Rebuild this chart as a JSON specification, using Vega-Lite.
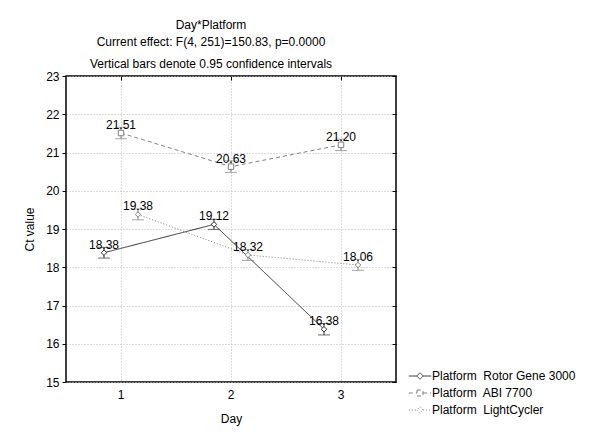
{
  "$schema": "https://vega.github.io/schema/vega-lite/v6.json",
  "width": 330,
  "height": 306,
  "autosize": {"type": "none"},
  "padding": {"left": 66, "top": 76, "right": 204, "bottom": 66},
  "background": "white",
  "title": {
    "text": "Day*Platform",
    "subtitle": ["Current effect: F(4, 251)=150.83, p=0.0000", "Vertical bars denote 0.95 confidence intervals"],
    "anchor": "middle",
    "dx": -20,
    "offset": -1,
    "font": "Liberation Sans",
    "fontSize": 12,
    "fontWeight": "normal",
    "color": "black",
    "subtitleFont": "Liberation Sans",
    "subtitleFontSize": 12,
    "subtitleColor": "black",
    "subtitleLineHeight": 22,
    "subtitlePadding": 5
  },
  "config": {
    "view": {"stroke": "black", "strokeWidth": 1.5},
    "font": "Liberation Sans",
    "axis": {
      "labelFont": "Liberation Sans",
      "titleFont": "Liberation Sans",
      "labelFontSize": 12,
      "titleFontSize": 12,
      "titleFontWeight": "normal",
      "labelColor": "black",
      "titleColor": "black",
      "gridColor": "#b8b8b8",
      "gridDash": [1, 2],
      "domain": false,
      "tickColor": "black"
    }
  },
  "data": {
    "values": [
      {"Platform": "Rotor Gene 3000", "Day": 1, "ct": 18.38, "lo": 18.24, "hi": 18.52},
      {"Platform": "Rotor Gene 3000", "Day": 2, "ct": 19.12, "lo": 18.99, "hi": 19.25},
      {"Platform": "Rotor Gene 3000", "Day": 3, "ct": 16.38, "lo": 16.23, "hi": 16.53},
      {"Platform": "ABI 7700", "Day": 1, "ct": 21.51, "lo": 21.36, "hi": 21.66},
      {"Platform": "ABI 7700", "Day": 2, "ct": 20.63, "lo": 20.48, "hi": 20.78},
      {"Platform": "ABI 7700", "Day": 3, "ct": 21.20, "lo": 21.05, "hi": 21.35},
      {"Platform": "LightCycler", "Day": 1, "ct": 19.38, "lo": 19.24, "hi": 19.52},
      {"Platform": "LightCycler", "Day": 2, "ct": 18.32, "lo": 18.18, "hi": 18.46},
      {"Platform": "LightCycler", "Day": 3, "ct": 18.06, "lo": 17.92, "hi": 18.20}
    ]
  },
  "resolve": {"axis": {"x": "independent", "y": "independent"}},
  "encoding": {
    "xOffset": {
      "field": "Platform", "type": "nominal",
      "scale": {"type": "point", "domain": ["Rotor Gene 3000", "ABI 7700", "LightCycler"], "range": [38, 72], "padding": 0}
    },
    "color": {
      "field": "Platform", "type": "nominal",
      "scale": {"domain": ["Rotor Gene 3000", "ABI 7700", "LightCycler"], "range": ["#303030", "#808080", "#808080"]},
      "legend": {
        "title": null,
        "orient": "none",
        "legendX": 348,
        "legendY": 294,
        "symbolType": "stroke",
        "symbolSize": 64,
        "symbolStrokeWidth": 1,
        "symbolFillColor": "white",
        "rowPadding": 5,
        "labelFont": "Liberation Sans",
        "labelFontSize": 12,
        "labelColor": "black",
        "labelOffset": 6,
        "labelExpr": "'Platform\u00a0 ' + datum.label",
        "encode": {
          "symbols": {
            "update": {
              "shape": {"signal": "datum.value == 'ABI 7700' ? 'M-2.8,0H-0.75M0.75,0H2.8M-0.75,-0.75H0.75V0.75H-0.75Z' : 'M-2.8,0H-0.8M0.8,0H2.8M0,-0.8L0.8,0L0,0.8L-0.8,0Z'"},
              "fill": {"value": "white"},
              "fillOpacity": {"value": 0}
            }
          }
        }
      }
    }
  },
  "layer": [
    {
      "mark": {"type": "line", "strokeWidth": 1},
      "encoding": {
        "x": {
          "field": "Day", "type": "ordinal",
          "scale": {"type": "band", "paddingInner": 0, "paddingOuter": 0},
          "axis": {"labelAngle": 0, "grid": true, "bandPosition": 0.5, "ticks": false, "labelPadding": 7, "titlePadding": 13, "title": "Day"}
        },
        "y": {
          "field": "ct", "type": "quantitative",
          "scale": {"domain": [15, 23], "nice": false, "zero": false},
          "axis": {"values": [15, 16, 17, 18, 19, 20, 21, 22, 23], "grid": true, "tickSize": 4, "labelPadding": 3, "titlePadding": 9, "title": "Ct value"}
        },
        "strokeDash": {
          "field": "Platform", "type": "nominal",
          "scale": {"domain": ["Rotor Gene 3000", "ABI 7700", "LightCycler"], "range": [[1, 0], [4, 3], [1, 2]]}
        }
      }
    },
    {
      "mark": {"type": "rule", "strokeWidth": 1},
      "encoding": {
        "x": {
          "field": "Day", "type": "ordinal",
          "axis": {"orient": "top", "labels": false, "title": null, "grid": false, "ticks": true, "tickSize": -4, "bandPosition": 0.5}
        },
        "y": {
          "field": "lo", "type": "quantitative",
          "axis": {"orient": "right", "values": [15, 16, 17, 18, 19, 20, 21, 22, 23], "labels": false, "title": null, "grid": false, "tickSize": -4}
        },
        "y2": {"field": "hi"}
      }
    },
    {
      "mark": {"type": "tick", "size": 12, "thickness": 1, "orient": "horizontal"},
      "encoding": {
        "x": {"field": "Day", "type": "ordinal", "axis": null},
        "y": {"field": "lo", "type": "quantitative", "axis": null}
      }
    },
    {
      "mark": {"type": "tick", "size": 12, "thickness": 1, "orient": "horizontal"},
      "encoding": {
        "x": {"field": "Day", "type": "ordinal", "axis": null},
        "y": {"field": "hi", "type": "quantitative", "axis": null}
      }
    },
    {
      "transform": [{"filter": "datum.Platform != 'ABI 7700'"}],
      "mark": {"type": "point", "shape": "diamond", "filled": false, "fill": "white", "fillOpacity": 1, "strokeWidth": 1, "size": 30, "opacity": 1},
      "encoding": {
        "x": {"field": "Day", "type": "ordinal", "axis": null},
        "y": {"field": "ct", "type": "quantitative", "axis": null}
      }
    },
    {
      "transform": [{"filter": "datum.Platform == 'ABI 7700'"}],
      "mark": {"type": "point", "shape": "square", "filled": false, "fill": "white", "fillOpacity": 1, "strokeWidth": 1, "size": 30, "opacity": 1},
      "encoding": {
        "x": {"field": "Day", "type": "ordinal", "axis": null},
        "y": {"field": "ct", "type": "quantitative", "axis": null}
      }
    },
    {
      "mark": {"type": "text", "dy": -4, "baseline": "alphabetic", "fontSize": 12, "color": "black", "font": "Liberation Sans"},
      "encoding": {
        "x": {"field": "Day", "type": "ordinal", "axis": null},
        "y": {"field": "ct", "type": "quantitative", "axis": null},
        "color": {"value": "black"},
        "text": {"field": "ct", "type": "quantitative", "format": ".2f"}
      }
    }
  ]
}
